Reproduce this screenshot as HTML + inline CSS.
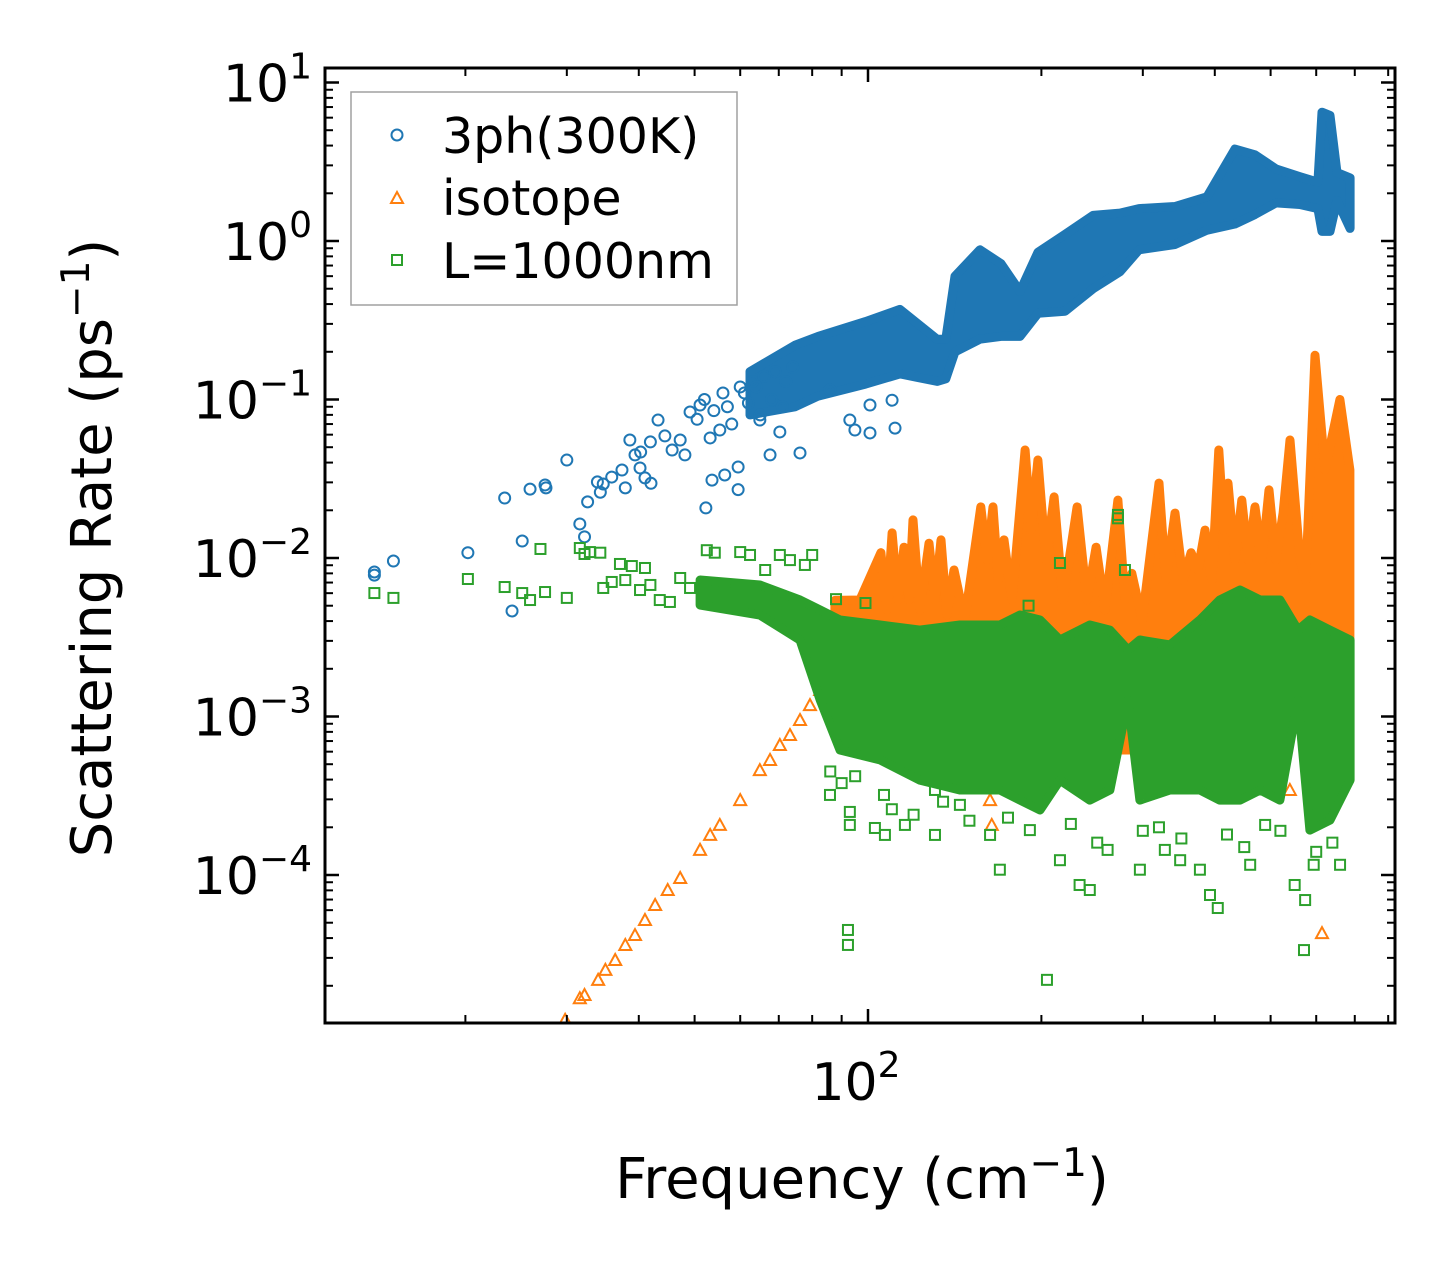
<!DOCTYPE html>
<html><head><meta charset="utf-8"><style>
html,body{margin:0;padding:0;background:#fff;}
svg{display:block;font-family:"DejaVu Sans","Liberation Sans",sans-serif;}
</style></head><body>
<svg id="chart" width="1455" height="1273" viewBox="0 0 1455 1273" xmlns="http://www.w3.org/2000/svg">
<rect x="0" y="0" width="1455" height="1273" fill="#fff"/>
<g id="marks"></g>
<g id="axes"></g>
<g id="legend">
<rect x="351" y="92" width="386" height="213" fill="#fff" fill-opacity="0.8" stroke="#a0a0a0" stroke-width="1.5"/>
<circle cx="397" cy="135" r="5.5" fill="none" stroke="#1f77b4" stroke-width="2"/>
<text x="442" y="153" font-size="49">3ph(300K)</text>
<path d="M397,192 L403,203 L391,203 Z" fill="none" stroke="#ff7f0e" stroke-width="2"/>
<text x="442" y="215" font-size="49">isotope</text>
<rect x="392" y="255" width="10" height="10" fill="none" stroke="#2ca02c" stroke-width="2"/>
<text x="442" y="278" font-size="49">L=1000nm</text>
</g>
<text x="862" y="1198" font-size="56" text-anchor="middle">Frequency (cm<tspan dy="-22" font-size="39">−1</tspan><tspan dy="22">)</tspan></text>
<text transform="translate(111,548) rotate(-90)" font-size="56" text-anchor="middle">Scattering Rate (ps<tspan dy="-22" font-size="39">−1</tspan><tspan dy="22">)</tspan></text>
</svg>
<script>
// ---- data ----
const phFreq = [13.9,13.9,15.0,20.2,23.4,25.1,25.9,27.5,27.6,30.0,24.1,31.6,32.2,32.6,33.9,34.3,34.7,35.9,37.4,37.9,38.6,39.4,40.3,40.2,41.0,42,41.9,43.2,44.4,45.7,47.2,48.1,49.1,51.1,52.3,53.2,53.6,55.3,56.4,59.5,59.5,64.9,67.6,70.3,76.2,94.9,100.8,100.8,110.1,111.4,93,85.9,50.5,52,54,56,58,60,62,63,65,66,68,69,71,72,74,57,61,64];
const phRate = [0.00816,0.0078,0.00957,0.0108,0.0239,0.0128,0.0272,0.0289,0.0277,0.0415,0.00463,0.0164,0.0136,0.0226,0.0302,0.026,0.0293,0.0324,0.0359,0.0277,0.0555,0.0447,0.0466,0.037,0.032,0.0296,0.054,0.0742,0.0589,0.048,0.0555,0.0447,0.0834,0.0923,0.0207,0.0572,0.031,0.0642,0.0334,0.027,0.0375,0.0742,0.0447,0.0624,0.046,0.0642,0.0923,0.0615,0.099,0.066,0.0742,0.115,0.075,0.1,0.085,0.11,0.07,0.12,0.095,0.13,0.08,0.14,0.1,0.15,0.09,0.13,0.16,0.09,0.11,0.12];
const phBandFreq = [62.4,74.7,81.9,99,113.6,131.8,136.5,141.6,156.4,170.2,183.6,197.3,219.8,245.9,273.8,295.5,341,387.7,433.5,469.8,510.7,562,604,614,634,652,687];
const phBandHi = [0.15,0.22,0.25,0.31,0.37,0.24,0.24,0.6,0.88,0.72,0.48,0.85,1.1,1.45,1.5,1.6,1.65,1.9,3.8,3.5,2.85,2.55,2.35,6.5,6.2,2.7,2.5];
const phBandLo = [0.08,0.09,0.105,0.125,0.145,0.13,0.135,0.2,0.24,0.25,0.25,0.35,0.36,0.5,0.64,0.88,0.95,1.17,1.28,1.47,1.74,1.7,1.6,1.15,1.15,1.8,1.2];

const isoFreq = [29.8,31.6,32.2,34.0,35.0,36.4,37.9,39.4,41.0,42.7,44.9,47.2,51.1,53.2,55.3,60.0,64.9,67.6,70.3,73.2,76.2,79.3,82.6,85.9,141.6,162.9,164,614,540,646];
const isoRate = [1.22e-5,1.67e-5,1.75e-5,2.18e-5,2.52e-5,2.91e-5,3.62e-5,4.18e-5,5.2e-5,6.47e-5,8.04e-5,9.57e-5,1.44e-4,1.79e-4,2.07e-4,2.97e-4,4.59e-4,5.32e-4,6.61e-4,7.64e-4,9.5e-4,1.18e-3,1.47e-3,1.91e-3,5.32e-4,2.97e-4,2.07e-4,4.3e-5,3.44e-4,4.94e-4];
const isoBandFreq = [87.6,96.8,105.3,107.9,110.1,112.7,115.5,117.8,119.7,123.0,127.6,130.7,133.9,137.1,141.0,147.2,157.0,161.0,164.8,168.3,172.2,177.8,187.4,191.9,197.2,203.7,210.4,218.0,230.7,239.9,248.9,257.9,271.6,279.3,287.1,299.2,320,328.9,341.2,352.4,363.8,374.1,384.6,395.4,406.5,414.9,421.7,433.5,445.6,457.1,469.8,483.1,496.7,510.7,525.6,540.3,562.3,575.4,597.0,621.4,659.5,686.6];
const isoBandHi = [5.4e-3,5.43e-3,0.0108,4.7e-3,0.0144,5.43e-3,0.0117,5.43e-3,0.0174,4.7e-3,0.0124,5.43e-3,0.013,4.37e-3,8.4e-3,4.06e-3,0.021,9.7e-3,0.021,7.26e-3,0.013,5.43e-3,0.048,0.015,0.0415,9.7e-3,0.0243,5.43e-3,0.021,5.43e-3,0.0117,4.7e-3,0.0232,5.43e-3,8.0e-3,4.06e-3,0.0297,7.26e-3,0.0192,7.26e-3,0.0108,8.4e-3,0.015,7.26e-3,0.048,0.015,0.0297,9.7e-3,0.0232,9.7e-3,0.021,9.7e-3,0.0269,9.7e-3,0.0192,0.0555,9.7e-3,7.26e-3,0.19,0.0359,0.1,0.0359];
const isoBandLo = [1.9e-3,1.27e-3,1.27e-3,1.27e-3,1.27e-3,1.27e-3,1.27e-3,1.27e-3,1.27e-3,1.27e-3,1.27e-3,1.27e-3,1.27e-3,1.27e-3,1.27e-3,1.27e-3,1.27e-3,1.27e-3,1.27e-3,1.27e-3,1.27e-3,1.27e-3,1.27e-3,1.27e-3,1.27e-3,1.27e-3,1.27e-3,1.27e-3,1.27e-3,1.27e-3,1.27e-3,1.27e-3,6.15e-4,6.15e-4,6.15e-4,1.27e-3,1.27e-3,1.27e-3,1.27e-3,1.27e-3,1.27e-3,1.27e-3,1.27e-3,1.27e-3,1.27e-3,1.27e-3,1.27e-3,1.27e-3,1.27e-3,1.27e-3,1.27e-3,1.27e-3,1.27e-3,1.27e-3,1.27e-3,1.27e-3,1.27e-3,1.27e-3,1.27e-3,1.27e-3,1.27e-3,1.27e-3];

const bdFreq = [13.9,15.0,20.2,23.4,25.1,25.9,27.0,27.5,30.0,31.6,32.2,32.9,34.3,34.7,35.9,37.1,37.9,38.9,40.2,41.0,41.9,43.5,45.3,47.2,49.1,52.5,54.2,56.4,60.0,62.4,66.3,70.3,73.2,77.7,80.0,85.9,93.0,93.0,92.3,92.3,102.8,107.0,106.6,115.9,130.7,130.7,144.4,162.9,169.4,191.0,204.5,215.4,233.0,242.7,260.6,296.5,327.6,348.3,376.9,392.4,404.8,460.8,489.2,550.5,574,571.4,594,660,271.6,271.6,215.4,279.3,86,88,90,95,99,110,120,135,150,175,190,225,250,300,320,350,420,450,520,600,640];
const bdRate = [6.01e-3,5.6e-3,7.37e-3,6.56e-3,6.01e-3,5.43e-3,0.0114,6.1e-3,5.6e-3,0.01156,0.0106,0.0109,0.0108,6.47e-3,7.06e-3,9.17e-3,7.26e-3,8.9e-3,6.28e-3,8.65e-3,6.76e-3,5.43e-3,5.28e-3,7.48e-3,6.47e-3,0.0112,0.0108,6.28e-3,0.0109,0.01045,8.4e-3,0.01045,9.7e-3,9.04e-3,0.01045,3.2e-4,2.5e-4,2.07e-4,4.5e-5,3.62e-5,1.98e-4,1.79e-4,3.2e-4,2.07e-4,3.44e-4,1.79e-4,2.77e-4,1.79e-4,1.08e-4,1.92e-4,2.18e-5,1.24e-4,8.65e-5,8.04e-5,1.44e-4,1.08e-4,1.44e-4,1.24e-4,1.08e-4,7.48e-5,6.19e-5,1.16e-4,2.07e-4,8.65e-5,6.95e-5,3.36e-5,1.16e-4,1.16e-4,0.0187,0.0178,9.3e-3,8.4e-3,4.5e-4,5.5e-3,3.8e-4,4.2e-4,5.2e-3,2.6e-4,2.4e-4,2.9e-4,2.2e-4,2.3e-4,5.0e-3,2.1e-4,1.6e-4,1.9e-4,2.0e-4,1.7e-4,1.8e-4,1.5e-4,1.9e-4,1.4e-4,1.6e-4];
const bdBandFreq = [51.1,64.9,76.2,82.6,89.4,104.9,123.0,144.4,169.4,183.6,198.9,215.4,242.7,263.0,282.7,296.5,334.4,376.9,408.0,442.4,479.7,518.9,557.8,585,634,687];
const bdBandHi = [7.26e-3,6.76e-3,5.43e-3,4.7e-3,4.06e-3,3.78e-3,3.51e-3,3.78e-3,3.78e-3,4.37e-3,4.06e-3,3.04e-3,3.78e-3,3.51e-3,2.63e-3,3.04e-3,2.83e-3,4.06e-3,5.43e-3,6.28e-3,5.43e-3,5.43e-3,3.51e-3,4.06e-3,3.51e-3,3.04e-3];
const bdBandLo = [5.05e-3,4.37e-3,3.04e-3,1.27e-3,6.15e-4,5.32e-4,3.97e-4,3.44e-4,3.44e-4,2.97e-4,2.57e-4,3.97e-4,2.97e-4,3.44e-4,1.27e-3,2.97e-4,3.44e-4,3.44e-4,2.97e-4,2.97e-4,3.44e-4,2.97e-4,1.27e-3,1.92e-4,2.22e-4,3.97e-4];

const yTickExps = [1,0,-1,-2,-3,-4];
const xTickLabels = ["10"];
// ---- scales ----
const X0=868, XD=576, Y0=241, YD=158.5;
const PL=325, PR=1395, PT=68, PB=1023;
function sx(f){return X0+XD*(Math.log10(f)-2);}
function sy(r){return Y0-YD*Math.log10(r);}
const NS="http://www.w3.org/2000/svg";
function mk(tag,attrs,parent){const e=document.createElementNS(NS,tag);for(const k in attrs)e.setAttribute(k,attrs[k]);parent.appendChild(e);return e;}
const marks=document.getElementById('marks');
const axes=document.getElementById('axes');
const clip=mk('clipPath',{id:'pc'},marks);
mk('rect',{x:PL,y:PT,width:PR-PL,height:PB-PT},clip);
const g=mk('g',{'clip-path':'url(#pc)'},marks);

function band(fr,hi,lo,color,name){
  let pts=[];
  for(let i=0;i<fr.length;i++)pts.push(sx(fr[i]).toFixed(1)+','+sy(hi[i]).toFixed(1));
  for(let i=fr.length-1;i>=0;i--)pts.push(sx(fr[i]).toFixed(1)+','+sy(lo[i]).toFixed(1));
  const p=mk('polygon',{points:pts.join(' '),fill:color,stroke:color,'stroke-width':9,'stroke-linejoin':'round'},g);
  
  
}
function circles(fr,rt,color,name){
  for(let i=0;i<fr.length;i++){
    const c=mk('circle',{cx:sx(fr[i]),cy:sy(rt[i]),r:5.5,fill:'none',stroke:color,'stroke-width':2},g);
    
    
  }
}
function tris(fr,rt,color,name){
  for(let i=0;i<fr.length;i++){
    const x=sx(fr[i]),y=sy(rt[i]);
    const t=mk('path',{d:`M${x},${y-6} L${x+6},${y+5} L${x-6},${y+5} Z`,fill:'none',stroke:color,'stroke-width':2},g);
    
    
  }
}
function squares(fr,rt,color,name){
  for(let i=0;i<fr.length;i++){
    const s=mk('rect',{x:sx(fr[i])-5,y:sy(rt[i])-5,width:10,height:10,fill:'none',stroke:color,'stroke-width':2},g);
    
    
  }
}
band(phBandFreq,phBandHi,phBandLo,'#1f77b4','ph3-dense-band');
circles(phFreq,phRate,'#1f77b4','ph3-point');
band(isoBandFreq,isoBandHi,isoBandLo,'#ff7f0e','isotope-dense-band');
tris(isoFreq,isoRate,'#ff7f0e','isotope-point');
band(bdBandFreq,bdBandHi,bdBandLo,'#2ca02c','boundary-dense-band');
squares(bdFreq,bdRate,'#2ca02c','boundary-point');

// ---- axes ----
const fr=mk('rect',{x:PL,y:PT,width:PR-PL,height:PB-PT,fill:'none',stroke:'#000','stroke-width':3},axes);


for(let d=1;d<=2;d++){
  for(let m=1;m<=9;m++){
    const f=m*Math.pow(10,d);const x=sx(f);
    if(x<PL+2||x>PR-2)continue;
    const L=(m===1)?14:8;
    mk('line',{x1:x,y1:PB,x2:x,y2:PB-L,stroke:'#000','stroke-width':m===1?2.5:2},axes);
    mk('line',{x1:x,y1:PT,x2:x,y2:PT+L,stroke:'#000','stroke-width':m===1?2.5:2},axes);
  }
}
const xl=mk('text',{x:sx(100)-12,y:1100,'font-size':52,'text-anchor':'middle'},axes);


xl.textContent=xTickLabels[0];
const xs=mk('tspan',{dy:-23,'font-size':36},xl);xs.textContent='2';
for(let d=-5;d<=1;d++){
  for(let m=1;m<=9;m++){
    const r=m*Math.pow(10,d);const y=sy(r);
    if(y<PT+2||y>PB-2)continue;
    const L=(m===1)?14:8;
    mk('line',{x1:PL,y1:y,x2:PL+L,y2:y,stroke:'#000','stroke-width':m===1?2.5:2},axes);
    mk('line',{x1:PR,y1:y,x2:PR-L,y2:y,stroke:'#000','stroke-width':m===1?2.5:2},axes);
  }
}
yTickExps.forEach(e=>{
  const y=sy(Math.pow(10,e));
  const t=mk('text',{x:312,y:y+19,'font-size':52,'text-anchor':'end'},axes);
  
  
  t.textContent='10';
  const s=mk('tspan',{dy:-23,'font-size':36},t);
  s.textContent=(e<0?'−':'')+Math.abs(e);
});
</script>
</body></html>
